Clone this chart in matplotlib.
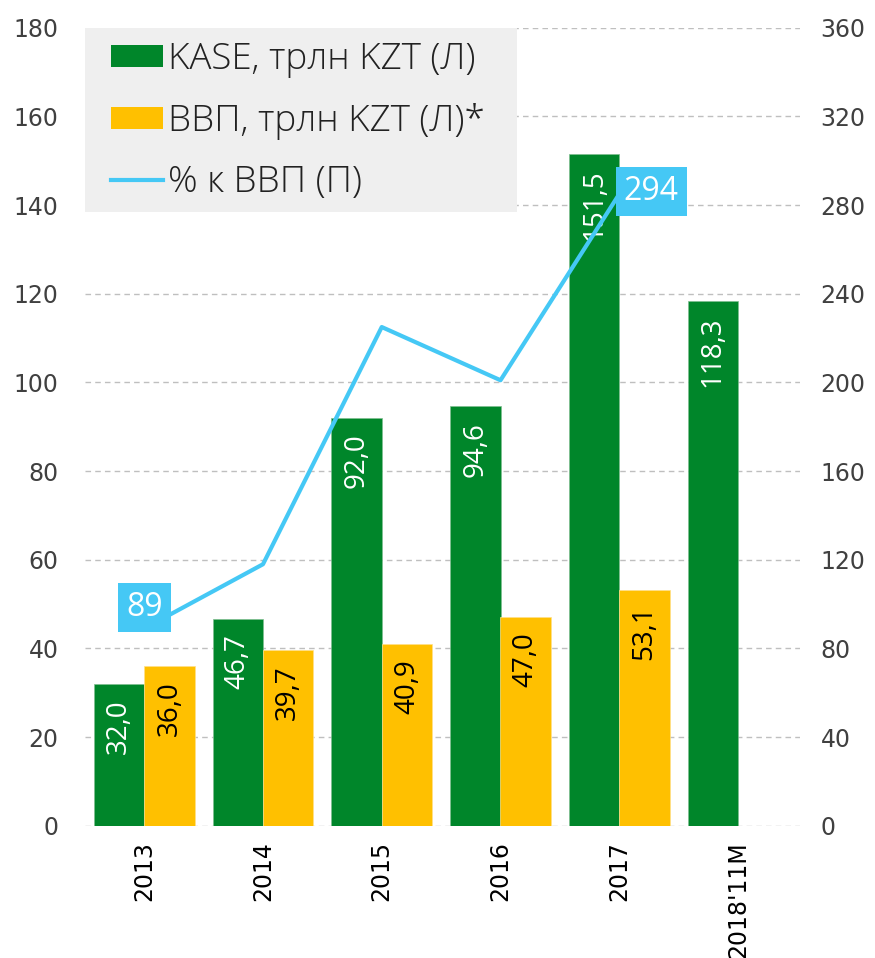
import numpy as np
import matplotlib.pyplot as plt
from matplotlib.patches import Patch, Rectangle
from matplotlib.lines import Line2D

plt.rcParams['font.family'] = ['Open Sans', 'DejaVu Sans']

years = ['2013', '2014', '2015', '2016', '2017', "2018'11M"]
kase = [32.0, 46.7, 92.0, 94.6, 151.5, 118.3]
gdp = [36.0, 39.7, 40.9, 47.0, 53.1]
pct = [89, 118, 225, 201, 285]
pct_labels = {0: '89', 4: '294'}

GREEN = '#00862A'
YELLOW = '#FFC000'
BLUE = '#45C8F5'

fig = plt.figure(figsize=(8.75, 9.58), dpi=100)
ax = fig.add_axes([0.097, 0.138, 0.817, 0.833])
ax2 = ax.twinx()

x = np.arange(len(years))
w = 0.425
gx = x[:len(gdp)]

ax.bar(x - w / 2, kase, w, color=GREEN, edgecolor='#7fbf90', linewidth=0.5, zorder=2)
ax.bar(gx + w / 2, gdp, w, color=YELLOW, edgecolor='#ffe08a', linewidth=0.5, zorder=2)


def fmt(v):
    return f'{v:.1f}'.replace('.', ',')


for xi, v in zip(x - w / 2, kase):
    ax.annotate(fmt(v), (xi, v), xytext=(0, -11), textcoords='offset points',
                rotation=90, ha='center', va='top', color='white', fontsize=20, zorder=3)
for xi, v in zip(gx + w / 2, gdp):
    ax.annotate(fmt(v), (xi, v), xytext=(0, -11), textcoords='offset points',
                rotation=90, ha='center', va='top', color='black', fontsize=20, zorder=3)

ax2.plot(gx, pct, color=BLUE, linewidth=3, solid_capstyle='butt', zorder=4)
offsets = {0: (0, 15), 4: (23, 2)}
for i, txt in pct_labels.items():
    ax2.annotate(txt, (gx[i], pct[i]), xytext=offsets[i], textcoords='offset points',
                 ha='center', va='center', color='white', fontsize=23, zorder=5,
                 bbox=dict(boxstyle='square,pad=0.25', facecolor=BLUE, edgecolor='none'))

ax.set_xlim(-0.5, 5.52)
ax.set_ylim(0, 180)
ax2.set_ylim(0, 360)
ax.set_yticks(range(0, 181, 20))
ax2.set_yticks(range(0, 361, 40))
ax.set_xticks(x)
ax.set_xticklabels(years, rotation=90, fontsize=15.5, family=['DejaVu Sans'])
ax.yaxis.grid(True, linestyle=(0, (4, 3)), color='#BFBFBF', linewidth=1)
ax.set_axisbelow(True)

for a in (ax, ax2):
    for s in a.spines.values():
        s.set_visible(False)
    a.tick_params(length=0, labelsize=17, labelcolor='#404040')
ax.tick_params(axis='y', pad=19)
ax2.tick_params(axis='y', pad=15)
ax.tick_params(axis='x', pad=11, labelcolor='black')
for lab in ax.get_yticklabels() + ax2.get_yticklabels():
    lab.set_family(['DejaVu Sans'])

# legend background box
ax2.add_patch(Rectangle((0, 0.769), 0.604, 0.231, transform=ax2.transAxes,
                        facecolor='#EFEFEF', edgecolor='none', zorder=6))

handles = [Patch(facecolor=GREEN), Patch(facecolor=YELLOW),
           Line2D([0], [0], color=BLUE, linewidth=3)]
labels = ['KASE, трлн KZT (Л)', 'ВВП, трлн KZT (Л)*', '% к ВВП (П)']
leg = ax2.legend(handles, labels, loc='upper left', bbox_to_anchor=(0.036, 0.983),
                 borderaxespad=0, borderpad=0, fontsize=26.5, frameon=False,
                 handlelength=1.41, handleheight=0.54, handletextpad=0.16,
                 labelspacing=0.66)
leg.set_zorder(7)
for t in leg.get_texts():
    t.set_color('#222222')
    t.set_fontweight('light')

fig.savefig('out.png', dpi=100)
